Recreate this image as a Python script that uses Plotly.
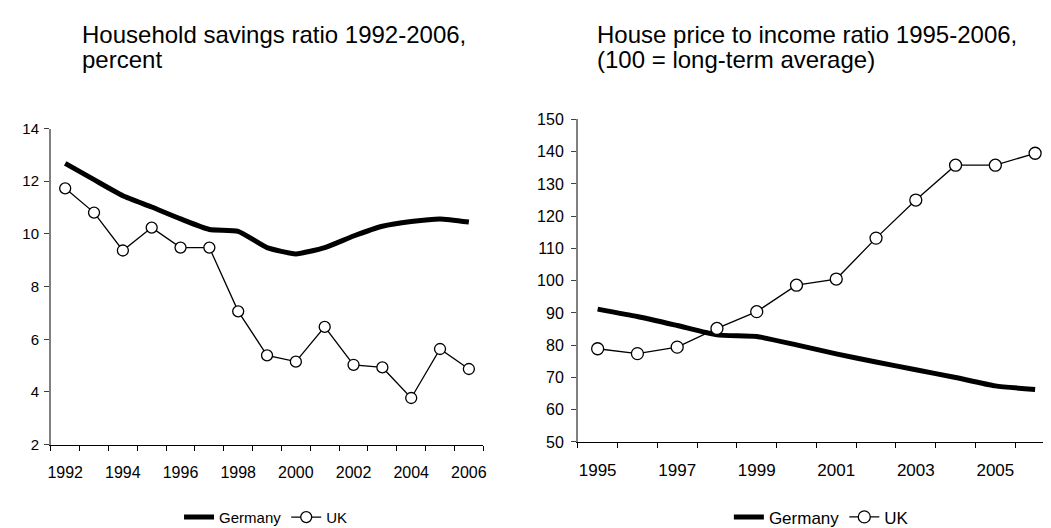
import plotly.graph_objects as go

# ---- data ----
years_left = list(range(1992, 2007))
germany_savings = [12.68, 12.06, 11.45, 11.02, 10.57, 10.17, 10.10, 9.48, 9.24, 9.48, 9.92, 10.29, 10.47, 10.57, 10.45]
uk_savings = [11.73, 10.81, 9.37, 10.24, 9.48, 9.48, 7.06, 5.39, 5.15, 6.47, 5.03, 4.93, 3.77, 5.63, 4.87]

years_right = list(range(1995, 2007))
germany_house = [91.2, 88.9, 86.1, 83.2, 82.7, 80.1, 77.3, 74.8, 72.4, 70.0, 67.4, 66.3]
uk_house = [78.9, 77.4, 79.4, 85.2, 90.4, 98.6, 100.5, 113.2, 125.0, 135.8, 135.8, 139.5]

left_title_lines = ["Household savings ratio 1992-2006,", "percent"]
right_title_lines = ["House price to income ratio 1995-2006,", "(100 = long-term average)"]
left_xticks = list(range(1992, 2007, 2))
right_xticks = list(range(1995, 2006, 2))

FONT = "Liberation Sans, Arial, sans-serif"
W, H = 1051, 528


def px_x(p):
    return p / W


def px_y(p):
    return 1 - p / H


fig = go.Figure()

germany_style = dict(color="black", width=5, shape="spline", smoothing=0.5)
uk_line = dict(color="black", width=1.3)

fig.add_trace(go.Scatter(x=years_left, y=germany_savings, mode="lines", name="Germany",
                         line=germany_style, xaxis="x", yaxis="y", legend="legend"))
fig.add_trace(go.Scatter(x=years_left, y=uk_savings, mode="lines+markers", name="UK",
                         line=uk_line,
                         marker=dict(symbol="circle", size=11, color="white", line=dict(color="black", width=1.3)),
                         xaxis="x", yaxis="y", legend="legend"))
fig.add_trace(go.Scatter(x=years_right, y=germany_house, mode="lines", name="Germany",
                         line=germany_style, xaxis="x2", yaxis="y2", legend="legend2"))
fig.add_trace(go.Scatter(x=years_right, y=uk_house, mode="lines+markers", name="UK",
                         line=uk_line,
                         marker=dict(symbol="circle", size=12, color="white", line=dict(color="black", width=1.3)),
                         xaxis="x2", yaxis="y2", legend="legend2"))

common_x = dict(showgrid=False, zeroline=False, showline=True, linecolor="black", linewidth=1,
                ticks="", tickmode="array", ticklabelstandoff=13, fixedrange=True)
common_y = dict(showgrid=False, zeroline=False, showline=True, linecolor="#808080", linewidth=1.5,
                ticks="outside", ticklen=5, tickcolor="#404040", tickwidth=1, fixedrange=True)


def boundaries(years):
    return [y - 0.5 for y in years] + [years[-1] + 0.5]


annotations = []
for lines, x0 in ((left_title_lines, 69), (right_title_lines, 587)):
    for line, bottom in zip(lines, (34.0, 60.0)):
        annotations.append(dict(text=line, x=px_x(x0), y=px_y(bottom), xref="paper", yref="paper",
                                xanchor="left", yanchor="bottom", align="left", showarrow=False,
                                font=dict(size=24, family=FONT, color="black")))

fig.update_layout(
    width=W, height=H, autosize=False,
    margin=dict(l=0, r=0, t=0, b=0),
    paper_bgcolor="white", plot_bgcolor="white",
    font=dict(family=FONT, color="black", size=15),
    xaxis=dict(**common_x, domain=[px_x(40), px_x(475)], range=[1991.5, 2006.5],
               tickvals=left_xticks, tickfont=dict(size=16),
               minor=dict(tickmode="array", tickvals=boundaries(years_left),
                          ticks="outside", ticklen=5, tickcolor="black", showgrid=False),
               anchor="y"),
    yaxis=dict(**common_y, domain=[px_y(442.7), px_y(115.5)], range=[2, 14], dtick=2,
               tickfont=dict(size=15), ticklabelstandoff=2, anchor="x"),
    xaxis2=dict(**common_x, domain=[px_x(570), px_x(1050)], range=[1994.5, 2006.5],
                tickvals=right_xticks, tickfont=dict(size=17),
                minor=dict(tickmode="array", tickvals=boundaries(years_right),
                           ticks="outside", ticklen=5, tickcolor="black", showgrid=False),
                anchor="y2"),
    yaxis2=dict(**common_y, domain=[px_y(440), px_y(106)], range=[50, 150], dtick=10,
                tickfont=dict(size=16), ticklabelstandoff=4, anchor="x2"),
    legend=dict(orientation="h", x=px_x(169), y=px_y(518), xanchor="left", yanchor="middle",
                font=dict(size=15), bgcolor="rgba(0,0,0,0)", itemwidth=30, tracegroupgap=0),
    legend2=dict(orientation="h", x=px_x(722), y=px_y(518), xanchor="left", yanchor="middle",
                 font=dict(size=17), bgcolor="rgba(0,0,0,0)", itemwidth=30, tracegroupgap=0),
    annotations=annotations,
    showlegend=True,
)

fig.write_html("out.html")
